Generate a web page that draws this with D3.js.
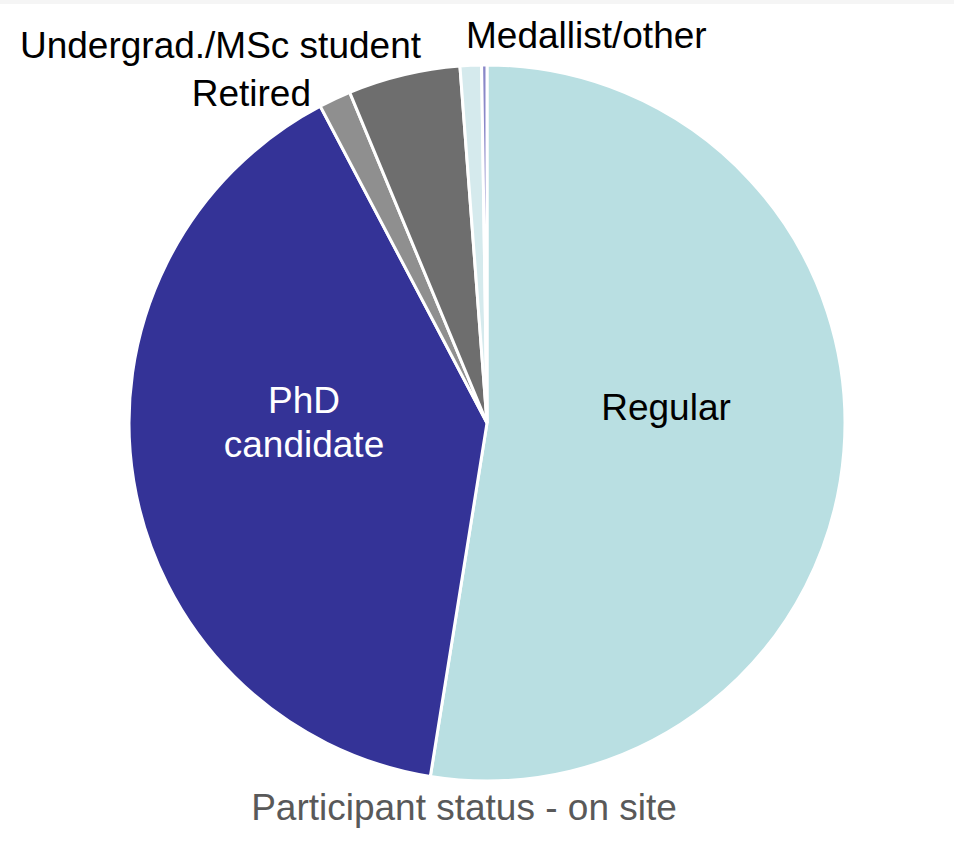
<!DOCTYPE html>
<html>
<head>
<meta charset="utf-8">
<script src="https://cdn.jsdelivr.net/npm/d3@7"></script>
<style>
  body { margin: 0; background: #fff; }
  svg { display: block; font-family: "Liberation Sans", Arial, sans-serif; }
</style>
</head>
<body>
<div id="chart"></div>
<script>
// participant counts, clockwise from 12 o'clock
const categories = ['Regular', 'PhD candidate', 'Retired', 'Undergrad./MSc student', 'Medallist/other', 'Other'];
const counts = [218, 165, 6, 21, 4, 1];
const colours = ['#b9dfe2', '#343397', '#8f8f8f', '#6e6e6e', '#d5eaed', '#8a88c8'];
const title = 'Participant status - on site';

const W = 954, H = 845;
const cx = 487, cy = 423, r = 358;

const svg = d3.select('#chart')
  .append('svg')
  .attr('width', W)
  .attr('height', H);

// faint strip along the top edge of the original screenshot
svg.append('rect')
  .attr('x', 0).attr('y', 0)
  .attr('width', W).attr('height', 4)
  .style('fill', '#f5f5f5');

const plot = svg.append('g')
  .attr('transform', `translate(${cx}, ${cy})`);

const pie = d3.pie().sort(null).value(function(d){ return d; });
const arcs = pie(counts);
const arc = d3.arc().innerRadius(0).outerRadius(r);

plot.selectAll('.slice')
  .data(arcs)
  .enter()
  .append('path')
  .attr('class', 'slice')
  .attr('d', arc)
  .style('fill', function(d, i){ return colours[i]; })
  .style('stroke', '#fff')
  .style('stroke-width', 3)
  .style('stroke-linejoin', 'miter');

// labels: where each one sits, relative to the pie centre
const labelPos = {
  'Regular':                {x: 179,  y: -3,   anchor: 'middle', fill: '#000'},
  'PhD candidate':          {x: -183, y: -10,  anchor: 'middle', fill: '#fff'},
  'Retired':                {x: -176, y: -317, anchor: 'end',    fill: '#000'},
  'Undergrad./MSc student': {x: -66,  y: -365, anchor: 'end',    fill: '#000'},
  'Medallist/other':        {x: -21,  y: -375, anchor: 'start',  fill: '#000'}
};

categories.forEach(function(name){
  const p = labelPos[name];
  if(!p) return;
  const t = plot.append('text')
    .attr('x', p.x)
    .attr('y', p.y)
    .attr('text-anchor', p.anchor)
    .style('font-size', '37px')
    .style('fill', p.fill);
  if(name === 'PhD candidate'){
    t.append('tspan').attr('x', p.x).text('PhD');
    t.append('tspan').attr('x', p.x).attr('dy', 44).text('candidate');
  }else{
    t.text(name);
  }
});

svg.append('text')
  .attr('x', 464)
  .attr('y', 820)
  .attr('text-anchor', 'middle')
  .style('font-size', '37px')
  .style('fill', '#595959')
  .text(title);
</script>
</body>
</html>
